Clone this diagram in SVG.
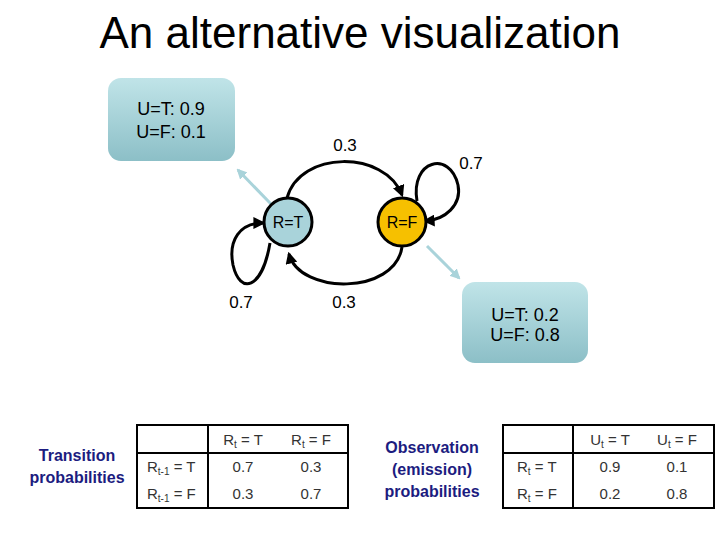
<svg xmlns="http://www.w3.org/2000/svg" width="720" height="540" viewBox="0 0 720 540">
<defs>
<linearGradient id="boxg" x1="0" y1="0" x2="0" y2="1">
<stop offset="0" stop-color="#c0e4e8"/>
<stop offset="1" stop-color="#8cbfc7"/>
</linearGradient>
<marker id="blk" viewBox="0 0 10 10" refX="8" refY="5" markerWidth="4" markerHeight="4" orient="auto">
<path d="M0,0 L10,5 L0,10 Z" fill="#000"/>
</marker>
<marker id="tl" viewBox="0 0 10 10" refX="8" refY="5" markerWidth="3.5" markerHeight="3.5" orient="auto">
<path d="M0,0 L10,5 L0,10 Z" fill="#a9d3da"/>
</marker>
</defs>
<style>
text{font-family:"Liberation Sans",Arial,sans-serif;}
.t{font-size:16px;fill:#000;}
.b{font-size:18px;fill:#000;text-anchor:middle;}
.e{font-size:17px;fill:#000;text-anchor:middle;}
.c{font-size:15px;fill:#333;text-anchor:middle;}
.l{font-size:15px;fill:#333;}
.h{font-size:16px;font-weight:bold;fill:#1c1c80;text-anchor:middle;}
.arc{fill:none;stroke:#000;stroke-width:3;marker-end:url(#blk);}
.em{fill:none;stroke:#a9d3da;stroke-width:3;marker-end:url(#tl);}
.tb{fill:none;stroke:#000;stroke-width:2;}
</style>
<rect width="720" height="540" fill="#fff"/>
<text x="360" y="48" font-size="44" text-anchor="middle" fill="#000">An alternative visualization</text>

<g id="emit1">
<rect x="108" y="78" width="127" height="83" rx="13" fill="url(#boxg)"/>
<text class="b" x="171" y="115">U=T: 0.9</text>
<text class="b" x="171" y="138">U=F: 0.1</text>
</g>
<g id="emit2">
<rect x="462" y="282" width="126" height="81" rx="13" fill="url(#boxg)"/>
<text class="b" x="525" y="321">U=T: 0.2</text>
<text class="b" x="525" y="341">U=F: 0.8</text>
</g>

<g id="connectors">
<path class="arc" d="M287,198 C300,150 385,150 402,195"/>
<path class="arc" d="M402,247 C395,295 300,295 289,254"/>
<path class="arc" d="M270,243 C262,290 240,295 233,265 C228,240 240,223 263,223"/>
<path class="arc" d="M417,201 C410,160 450,150 458,185 C462,205 445,220 425,221"/>
<path class="em" d="M271,204 L238,170"/>
<path class="em" d="M427,246 L459,278"/>
<text class="e" x="345" y="151">0.3</text>
<text class="e" x="471" y="169">0.7</text>
<text class="e" x="241" y="308">0.7</text>
<text class="e" x="344" y="308">0.3</text>
</g>

<g id="RT">
<circle cx="288" cy="222" r="24" fill="#a9d3da" stroke="#000" stroke-width="3"/>
<text class="t" x="288" y="228" text-anchor="middle">R=T</text>
</g>
<g id="RF">
<circle cx="402" cy="222" r="24" fill="#f6c000" stroke="#000" stroke-width="3"/>
<text class="t" x="402" y="228" text-anchor="middle">R=F</text>
</g>

<g id="transition">
<text class="h" x="77" y="461">Transition</text>
<text class="h" x="77" y="483">probabilities</text>
<rect class="tb" x="137" y="425" width="211" height="83"/>
<line class="tb" x1="208" y1="425" x2="208" y2="508"/>
<line class="tb" x1="137" y1="453" x2="348" y2="453"/>
<text class="c" x="243" y="445">R<tspan font-size="10" dy="3">t</tspan><tspan dy="-3"> = T</tspan></text>
<text class="c" x="311" y="445">R<tspan font-size="10" dy="3">t</tspan><tspan dy="-3"> = F</tspan></text>
<text class="l" x="147" y="472">R<tspan font-size="10" dy="3">t-1</tspan><tspan dy="-3"> = T</tspan></text>
<text class="l" x="147" y="499">R<tspan font-size="10" dy="3">t-1</tspan><tspan dy="-3"> = F</tspan></text>
<text class="c" x="243" y="472">0.7</text>
<text class="c" x="311" y="472">0.3</text>
<text class="c" x="243" y="499">0.3</text>
<text class="c" x="311" y="499">0.7</text>
</g>

<g id="observation">
<text class="h" x="432" y="453">Observation</text>
<text class="h" x="432" y="475">(emission)</text>
<text class="h" x="432" y="497">probabilities</text>
<rect class="tb" x="503" y="425" width="211" height="83"/>
<line class="tb" x1="573" y1="425" x2="573" y2="508"/>
<line class="tb" x1="503" y1="453" x2="714" y2="453"/>
<text class="c" x="610" y="445">U<tspan font-size="10" dy="3">t</tspan><tspan dy="-3"> = T</tspan></text>
<text class="c" x="677" y="445">U<tspan font-size="10" dy="3">t</tspan><tspan dy="-3"> = F</tspan></text>
<text class="l" x="517" y="472">R<tspan font-size="10" dy="3">t</tspan><tspan dy="-3"> = T</tspan></text>
<text class="l" x="517" y="499">R<tspan font-size="10" dy="3">t</tspan><tspan dy="-3"> = F</tspan></text>
<text class="c" x="610" y="472">0.9</text>
<text class="c" x="677" y="472">0.1</text>
<text class="c" x="610" y="499">0.2</text>
<text class="c" x="677" y="499">0.8</text>
</g>
</svg>
